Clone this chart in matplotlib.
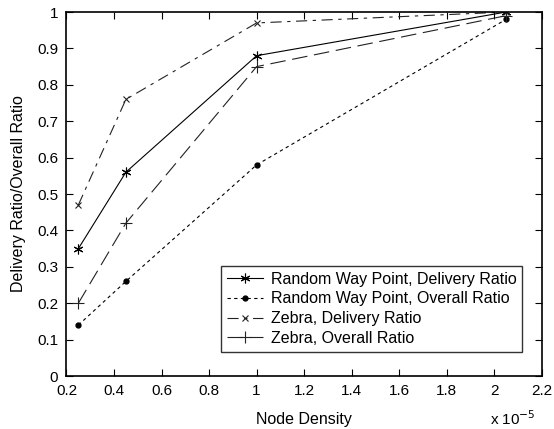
import matplotlib
matplotlib.use("Agg")
import matplotlib.pyplot as plt

plt.rcParams['font.family'] = ['Liberation Sans', 'DejaVu Sans']

# node density (x 1e-5)
density = [0.25, 0.45, 1.0, 2.05]

rwp_delivery = [0.35, 0.56, 0.88, 1.0]
rwp_overall = [0.14, 0.26, 0.58, 0.98]
zebra_delivery = [0.47, 0.76, 0.97, 1.0]
zebra_overall = [0.20, 0.42, 0.85, 0.99]

labels = ['Random Way Point, Delivery Ratio', 'Random Way Point, Overall Ratio',
          'Zebra, Delivery Ratio', 'Zebra, Overall Ratio']

fig = plt.figure(figsize=(5.54, 4.29), dpi=100)
ax = fig.add_axes([0.120, 0.1235, 0.858, 0.8485])

ax.plot(density, rwp_delivery, color='black', lw=0.8, marker=(6, 2, 0), ms=7, mew=0.8,
        label=labels[0])
ax.plot(density, rwp_overall, color='black', lw=0.8, dashes=(3, 3), marker='o', ms=3.5,
        label=labels[1])
ax.plot(density, zebra_delivery, color='#222222', lw=0.8, dashes=(10, 5, 3, 5), marker='x',
        ms=4, mew=0.8, label=labels[2])
ax.plot(density, zebra_overall, color='#222222', lw=0.8, dashes=(14, 6), marker='+',
        ms=9, mew=0.8, label=labels[3])

ax.set_xlim(0.2, 2.2)
ax.set_ylim(0, 1)
ax.set_xticks([0.2, 0.4, 0.6, 0.8, 1, 1.2, 1.4, 1.6, 1.8, 2, 2.2])
ax.set_xticklabels(['0.2', '0.4', '0.6', '0.8', '1', '1.2', '1.4', '1.6', '1.8', '2', '2.2'])
ax.set_yticks([0, 0.1, 0.2, 0.3, 0.4, 0.5, 0.6, 0.7, 0.8, 0.9, 1])
ax.set_yticklabels(['0', '0.1', '0.2', '0.3', '0.4', '0.5', '0.6', '0.7', '0.8', '0.9', '1'])
ax.tick_params(direction='in', top=True, right=True, labelsize=11, length=5, width=0.8, pad=6)
for s in ax.spines.values():
    s.set_linewidth(1.2)

ax.set_xlabel('Node Density', fontsize=11.5, labelpad=10)
ax.set_ylabel('Delivery Ratio/Overall Ratio', fontsize=11.5, labelpad=8)

fig.text(0.926, 0.025, 'x 10$^{-5}$', fontsize=11, ha='center', va='center')

leg = ax.legend(loc='lower left', bbox_to_anchor=(0.325, 0.067, 0.633, 0.244), mode='expand',
                fontsize=11.5, frameon=True, fancybox=False, edgecolor='black',
                handlelength=2.3, borderaxespad=0, labelspacing=0.3, handletextpad=0.5,
                borderpad=0.35)
leg.get_frame().set_linewidth(1.0)

fig.savefig('out.png', dpi=100)
